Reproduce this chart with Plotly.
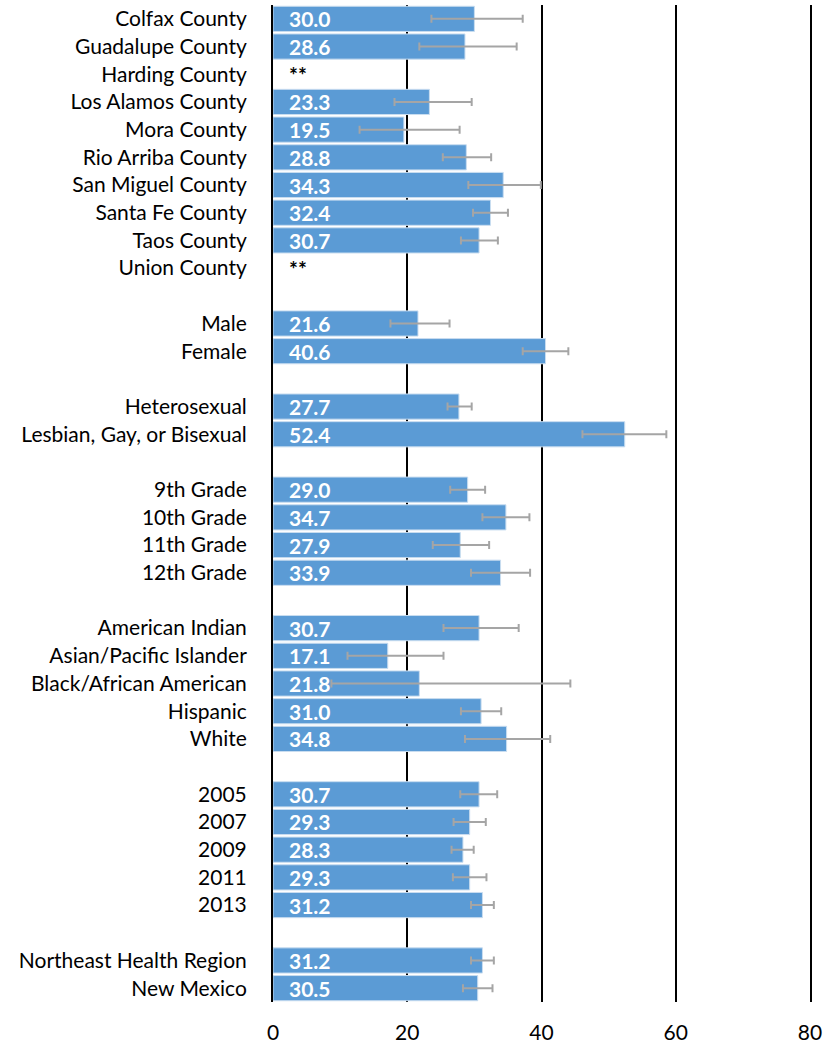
import plotly.graph_objects as go

# rows in drawing order; None marks a blank spacer row between groups
labels = [
    "Colfax County", "Guadalupe County", "Harding County", "Los Alamos County",
    "Mora County", "Rio Arriba County", "San Miguel County", "Santa Fe County",
    "Taos County", "Union County", None,
    "Male", "Female", None,
    "Heterosexual", "Lesbian, Gay, or Bisexual", None,
    "9th Grade", "10th Grade", "11th Grade", "12th Grade", None,
    "American Indian", "Asian/Pacific Islander", "Black/African American",
    "Hispanic", "White", None,
    "2005", "2007", "2009", "2011", "2013", None,
    "Northeast Health Region", "New Mexico",
]
values = [
    30.0, 28.6, None, 23.3, 19.5, 28.8, 34.3, 32.4, 30.7, None, None,
    21.6, 40.6, None,
    27.7, 52.4, None,
    29.0, 34.7, 27.9, 33.9, None,
    30.7, 17.1, 21.8, 31.0, 34.8, None,
    30.7, 29.3, 28.3, 29.3, 31.2, None,
    31.2, 30.5,
]
ci_low = [
    23.6, 21.8, None, 18.1, 12.9, 25.3, 29.1, 29.8, 28.0, None, None,
    17.5, 37.2, None,
    26.0, 46.1, None,
    26.4, 31.2, 23.8, 29.5, None,
    25.4, 11.1, 8.7, 28.0, 28.6, None,
    27.9, 26.9, 26.6, 26.8, 29.5, None,
    29.5, 28.3,
]
ci_high = [
    37.2, 36.3, None, 29.6, 27.8, 32.5, 39.9, 35.0, 33.5, None, None,
    26.3, 44.0, None,
    29.6, 58.6, None,
    31.6, 38.2, 32.2, 38.3, None,
    36.6, 25.4, 44.3, 34.0, 41.3, None,
    33.4, 31.7, 29.9, 31.8, 32.9, None,
    32.9, 32.7,
]
x_ticks = [0, 20, 40, 60, 80]

FONT = "Lato, Calibri, 'Open Sans', sans-serif"
BAR_COLOR = "#5B9BD5"
ERR_COLOR = "#A5A5A5"

rows = list(range(len(labels)))
bar_y = [r for r, v in zip(rows, values) if v is not None]
bar_x = [v for v in values if v is not None]
err_plus = [h - v for v, h in zip(values, ci_high) if v is not None]
err_minus = [v - l for v, l in zip(values, ci_low) if v is not None]

fig = go.Figure()
fig.add_trace(go.Bar(
    x=bar_x, y=bar_y, orientation="h",
    marker=dict(color=BAR_COLOR, line=dict(color="#C9DDF0", width=1)),
    error_x=dict(type="data", symmetric=False, array=err_plus,
                 arrayminus=err_minus, color=ERR_COLOR, thickness=2, width=4),
    hoverinfo="x+y",
))

# value labels inside bars, "**" where data is suppressed
for r, lab, v in zip(rows, labels, values):
    if lab is None:
        continue
    if v is None:
        txt, col = "**", "black"
    else:
        txt, col = f"{v:.1f}", "white"
    fig.add_annotation(x=0, y=r, text=f"<b>{txt}</b>", showarrow=False,
                       xanchor="left", xshift=14,
                       font=dict(family=FONT, size=21, color=col))

fig.update_layout(
    width=825, height=1046,
    margin=dict(l=273, r=15, t=5, b=44),
    plot_bgcolor="white", paper_bgcolor="white",
    bargap=0.09, showlegend=False,
    font=dict(family=FONT, size=21, color="black"),
)
fig.update_xaxes(
    range=[0, 80], tickvals=x_ticks, showgrid=True, gridcolor="black",
    gridwidth=2, zeroline=False, showline=False, ticklabelstandoff=16,
    tickfont=dict(size=21), automargin=False,
)
# mirrored y-axis line doubles as the gridline at 80
fig.update_yaxes(
    range=[len(labels) - 0.5, -0.5],
    tickvals=[r for r, lab in zip(rows, labels) if lab is not None],
    ticktext=[lab for lab in labels if lab is not None],
    showgrid=False, zeroline=False, showline=True, mirror=True,
    linecolor="black", linewidth=2, ticklabelstandoff=20,
    tickfont=dict(size=21), automargin=False,
)

# drop the browser's default page margin so the figure sits at the corner
fig.write_html("out.html",
               config={"displayModeBar": False},
               post_script="document.body.style.margin='0';"
                           "document.body.style.overflow='hidden';")
